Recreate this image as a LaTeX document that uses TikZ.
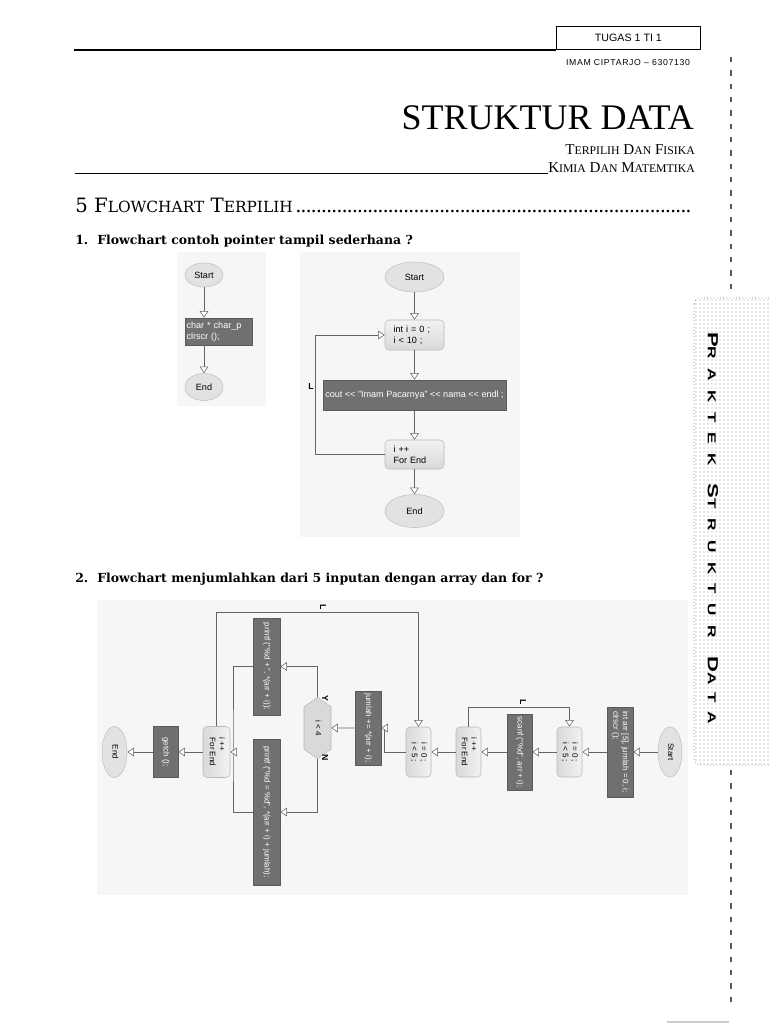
\documentclass[tikz,border=0pt]{standalone}
\usepackage{graphicx}
\usepackage{fontspec}
\setmainfont{Liberation Serif}
\setsansfont{Liberation Sans}
\newfontfamily\headfont{DejaVu Serif}
\newfontfamily\sidefont[LetterSpace=55]{Liberation Sans}
\usetikzlibrary{arrows.meta,positioning,shapes.geometric,shapes.symbols,patterns}
\definecolor{imgbg}{RGB}{246,246,246}
\definecolor{boxdark}{RGB}{112,112,112}
\definecolor{boxedge}{RGB}{90,90,90}
\definecolor{termfill}{RGB}{226,226,226}
\definecolor{linegray}{RGB}{100,100,100}
\makeatletter
\newcommand{\fsc}[2]{#1{\fontsize{\fpeval{0.78*\f@size}}{\f@baselineskip}\selectfont #2}}
\makeatother
\newcommand{\rt}[1]{\rotatebox{-90}{\begin{tabular}{@{}l@{}}#1\end{tabular}}}
\newcommand{\dotrow}{\leaders\hbox to 0.26em{\hss.\hss}\hskip 0pt plus 1fill}
\tikzset{
  sz/.style 2 args={minimum width=#1*0.75pt,minimum height=#2*0.75pt,inner sep=0pt},
  term/.style={ellipse,fill=termfill,draw=termfill!85!black},
  dbox/.style={rectangle,fill=boxdark,draw=boxedge,text=white},
  fbox/.style={rectangle,rounded corners=3pt,top color=gray!10,bottom color=gray!30,draw=gray!55},
  rbox/.style={rectangle,rounded corners=3pt,left color=gray!30,right color=gray!10,draw=gray!55},
  cnd/.style={signal,signal to=north and south,signal pointer angle=110,fill=gray!30,draw=gray!55},
  fa/.style={font=\sffamily\fontsize{6.8}{8}\selectfont},
  fb/.style={font=\sffamily\fontsize{6}{7}\selectfont},
  arr/.style={draw=linegray,-{Triangle[fill=white,length=5pt,width=6.5pt]}},
  wire/.style={draw=linegray},
  lbl/.style={inner sep=0pt,font=\sffamily\bfseries\fontsize{6.5}{7}\selectfont},
}
\begin{document}
\begin{tikzpicture}[x=0.75pt,y=-0.75pt,line join=round]
\useasboundingbox (0,0) rectangle (768,1024);
\fill[white] (0,0) rectangle (768,1024);

% --- page head
\draw[line width=0.9pt] (74,50) -- (556,50);
\node[draw,line width=0.6pt,sz={144}{23},anchor=south west,font=\sffamily\fontsize{8}{9}\selectfont] (tugas) at (556,50) {TUGAS 1 TI 1};
\node[anchor=base,inner sep=0pt,font=\sffamily\fontsize{6.5}{7}\selectfont\addfontfeature{LetterSpace=8}] (nim) at (628,65) {IMAM CIPTARJO -- 6307130};
\node[anchor=base east,inner sep=0pt,font=\fontsize{27}{28}\selectfont] (ttl) at (694,129) {STRUKTUR DATA};
\node[anchor=base east,inner sep=0pt,font=\fontsize{11.3}{12}\selectfont] (sub1) at (695,154) {\fsc{T}{ERPILIH} \fsc{D}{AN} \fsc{F}{ISIKA}};
\node[anchor=base east,inner sep=0pt,font=\fontsize{11.3}{12}\selectfont] (sub2) at (695,172) {\fsc{K}{IMIA} \fsc{D}{AN} \fsc{M}{ATEMTIKA}};
\coordinate (rl) at (75,173.5);
\draw[line width=0.6pt] (rl) -- (rl -| sub2.base west);
\node[anchor=base west,inner sep=0pt,font=\headfont\fontsize{14.8}{15}\selectfont] (sec) at (75,212) {\makebox[465pt][l]{5 \fsc{F}{LOWCHART} \fsc{T}{ERPILIH}\dotrow}};
\node[anchor=base west,inner sep=0pt,font=\headfont\bfseries\fontsize{9.35}{12}\selectfont] (q1) at (75,244) {\makebox[16.5pt][l]{1.}Flowchart contoh pointer tampil sederhana ?};
\node[anchor=base west,inner sep=0pt,font=\headfont\bfseries\fontsize{9.35}{12}\selectfont] (q2) at (75,582) {\makebox[16.5pt][l]{2.}Flowchart menjumlahkan dari 5 inputan dengan array dan for ?};

% --- side tab
\draw[gray!70!black,line width=0.9pt,dash pattern=on 4pt off 6pt] (731,57) -- (731,292);
\draw[gray!70!black,line width=0.9pt,dash pattern=on 4pt off 6pt] (731,770) -- (731,1008);
\draw[gray!60!black,dotted,rounded corners=5pt,pattern=dots,pattern color=gray!80] (694,298) rectangle (800,765);
\node[rotate=-90,inner sep=0pt] (tab) at (713,528) {\scalebox{1.5}[1]{\sidefont\bfseries\fontsize{11}{12}\selectfont\fsc{P}{RAKTEK} \fsc{S}{TRUKTUR} \fsc{D}{ATA}}};
\draw[gray!40,line width=1pt] (667,1022) -- (729,1022);

% --- flowchart 1a
\fill[imgbg] (177,252) rectangle (266,406);
\node[term,fa,sz={38}{24}] (s1) at (204,275) {Start};
\node[dbox,fa,sz={67}{27},text width=48pt,align=left] (b1) at (218.5,331.5) {char * char\_p\\clrscr ();};
\node[term,fa,sz={38}{27}] (e1) at (204,387) {End};
\draw[arr] (s1) -- (s1 |- b1.north);
\draw[arr] (e1 |- b1.south) -- (e1);

% --- flowchart 1b
\fill[imgbg] (300,252) rectangle (520,537);
\node[term,fa,sz={59}{30}] (s2) at (414.5,277) {Start};
\node[fbox,fa,sz={59}{30},text width=31.5pt,align=left] (f1) at (414.5,335) {int i = 0 ;\\i < 10 ;};
\node[dbox,fa,sz={183}{30}] (c1) at (414.5,395) {cout <{}< "Imam Pacarnya" <{}< nama <{}< endl ;};
\node[fbox,fa,sz={59}{29},text width=31.5pt,align=left] (f2) at (414.5,454.5) {i ++\\For End};
\node[term,fa,sz={59}{33}] (e2) at (414.5,511) {End};
\draw[arr] (s2) -- (f1);
\draw[arr] (f1) -- (c1);
\draw[arr] (c1) -- (f2);
\draw[arr] (f2) -- (e2);
\draw[arr] (f2.west) -- ++(-69,0) |- (f1.west);
\node[lbl] (lb) at (311,387) {L};

% --- flowchart 2 (turned on its side)
\fill[imgbg] (97,600) rectangle (688,895);
\node[term,fb,sz={24}{50}] (st2) at (670,752) {\rt{Start}};
\node[dbox,fb,sz={26}{90}] (ini) at (620,752) {\rt{int arr [5], jumlah = 0, i;\\clrscr ();}};
\node[rbox,fb,sz={25}{50}] (for1) at (569.5,752) {\rt{i = 0 ;\\i < 5 ;}};
\node[dbox,fb,sz={25}{76}] (scn) at (519.5,752) {\rt{scanf ("\%d", arr + i);}};
\node[rbox,fb,sz={25}{50}] (fe1) at (468.5,752) {\rt{i ++\\For End}};
\node[rbox,fb,sz={25}{50}] (for2) at (418.5,752) {\rt{i = 0 ;\\i < 5 ;}};
\node[dbox,fb,sz={26}{74}] (jml) at (368,728) {\rt{jumlah += *(arr + i);}};
\node[cnd,fb,sz={27}{49}] (ck) at (317.5,728) {\rt{i < 4}};
\node[dbox,fb,sz={27}{97}] (pr1) at (266.5,666.5) {\rt{printf ("\%d + ", *(arr + i));}};
\node[dbox,fb,sz={27}{146}] (pr2) at (266.5,812) {\rt{printf ("\%d = \%d", *(arr + i) + jumlah);}};
\node[rbox,fb,sz={27}{51}] (fe2) at (216.5,752) {\rt{i ++\\For End}};
\node[dbox,fb,sz={25}{51}] (gch) at (165.5,752) {\rt{getch ();}};
\node[term,fb,sz={25}{51}] (en2) at (114.5,752) {\rt{End}};
\draw[arr] (st2) -- (ini);
\draw[arr] (ini) -- (for1);
\draw[arr] (for1) -- (scn);
\draw[arr] (scn) -- (fe1);
\draw[arr] (fe1) -- (for2);
\coordinate (lp1) at (569.5,707);
\draw[arr] (fe1.north) |- (lp1) -- (for1.north);
\draw[arr] (for2.west) -- ++(-21,0) |- (jml.east);
\draw[arr] (jml) -- (ck);
\draw[arr] (ck.north) |- (pr1.east);
\draw[arr] (ck.south) |- (pr2.east);
\coordinate (jn) at (233,752);
\draw[wire] (pr1.west) -| (jn) |- (pr2.west);
\draw[arr] (jn) -- (fe2.east);
\draw[arr] (fe2) -- (gch);
\draw[arr] (gch) -- (en2);
\coordinate (lp2) at (418.5,612);
\draw[arr] (fe2.north) |- (lp2) -- (for2.north);
\node[lbl,rotate=-90] (l1) at (523,702) {L};
\node[lbl,rotate=-90] (l2) at (323,607) {L};
\node[lbl,rotate=-90] (yy) at (325,698) {Y};
\node[lbl,rotate=-90] (nn) at (325,758) {N};
\end{tikzpicture}
\end{document}
